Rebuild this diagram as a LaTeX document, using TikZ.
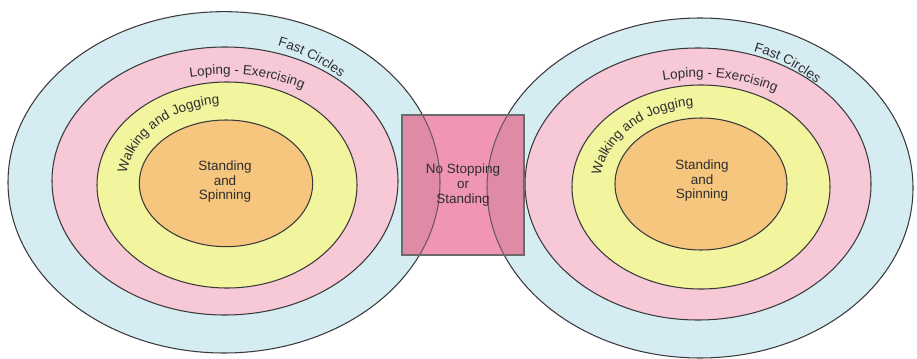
\documentclass[tikz,border=0pt]{standalone}
\usepackage{fontspec}
\setmainfont{Liberation Sans}
\usepackage{tikz}
\usetikzlibrary{
    calc,
    positioning,
    decorations.text
}
\usepackage{xcolor}

\definecolor{ringblue}{HTML}{D6ECF3}
\definecolor{ringpink}{HTML}{F7C8D6}
\definecolor{ringyellow}{HTML}{F2F59E}
\definecolor{ringorange}{HTML}{F6C57E}
\definecolor{ringline}{HTML}{3A3A3A}
\definecolor{boxpink}{HTML}{F096B4}
\definecolor{boxgray}{HTML}{6B6B6B}
\definecolor{labelgray}{HTML}{2E2E2E}

\newcommand{\ringfont}{\fontsize{11.5}{13}\selectfont\color{labelgray}}
\newcommand{\zonefont}{\fontsize{11.5}{12.5}\selectfont}

\begin{document}
\begin{tikzpicture}
                  % Page size
                  \useasboundingbox (0,0) rectangle (27.51,-10.77);

                  % Define styles:
                  \tikzset{
                        ring/.style={draw=ringline, line width=0.9pt},
                        ringlabel/.style={decorate, decoration={text along path, text align=center}},
                        centre/.style={align=center, text=labelgray, font=\zonefont},
                        nostopbox/.style={fill=boxpink, minimum width=3.66cm, minimum height=4.2cm,
                              inner sep=0pt, align=center, text=labelgray, font=\zonefont},
                        boxborder/.style={draw=boxgray, line width=1.8pt}
                  };

                  % Left circles (outer to inner)
                  \draw[ring, fill=ringblue] (6.72,-5.47) ellipse [x radius=6.48, y radius=5.12];
                  \draw[ring, fill=ringpink] (6.75,-5.43) ellipse [x radius=5.19, y radius=4.02];
                  \draw[ring, fill=ringyellow] (6.81,-5.55) ellipse [x radius=3.90, y radius=3.09];
                  \draw[ring, fill=ringorange] (6.78,-5.50) ellipse [x radius=2.60, y radius=1.90];

                  % Right circles (outer to inner)
                  \draw[ring, fill=ringblue] (21.00,-5.64) ellipse [x radius=6.39, y radius=5.10];
                  \draw[ring, fill=ringpink] (20.94,-5.52) ellipse [x radius=5.19, y radius=4.08];
                  \draw[ring, fill=ringyellow] (21.03,-5.61) ellipse [x radius=3.87, y radius=3.06];
                  \draw[ring, fill=ringorange] (21.03,-5.52) ellipse [x radius=2.58, y radius=1.98];

                  % Box between the two circles
                  \node[nostopbox] (nostop) at (13.89,-5.55) {};

                  % Outer circles showing through the box
                  \begin{scope}
                        \clip (nostop.south west) rectangle (nostop.north east);
                        \fill[black, opacity=0.07] (6.72,-5.47) ellipse [x radius=6.48, y radius=5.12];
                        \fill[black, opacity=0.07] (21.00,-5.64) ellipse [x radius=6.39, y radius=5.10];
                        \draw[ring, draw opacity=0.7] (6.72,-5.47) ellipse [x radius=6.48, y radius=5.12];
                        \draw[ring, draw opacity=0.7] (21.00,-5.64) ellipse [x radius=6.39, y radius=5.10];
                  \end{scope}
                  \draw[boxborder] (nostop.south west) rectangle (nostop.north east);
                  \node[centre] (nostop_text) at (nostop) {No Stopping\\or\\Standing};

                  % Ring labels on the left
                  \path[ringlabel, decoration={text={|\ringfont|Fast Circles}}, shift={(6.72,-5.47)}]
                        (97.5:5.07 and 4.32) arc [start angle=97.5, end angle=17.5, x radius=5.07, y radius=4.32];
                  \path[ringlabel, decoration={text={|\ringfont|Loping - Exercising}}, shift={(6.75,-5.43)}]
                        (130:4.6 and 3.2) arc [start angle=130, end angle=30, x radius=4.6, y radius=3.2];
                  \path[ringlabel, decoration={text={|\ringfont|Walking and Jogging}}, shift={(6.81,-5.55)}]
                        (190:3.04 and 2.43) arc [start angle=190, end angle=80, x radius=3.04, y radius=2.43];

                  % Ring labels on the right
                  \path[ringlabel, decoration={text={|\ringfont|Fast Circles}}, shift={(21.00,-5.64)}]
                        (97.5:5.07 and 4.32) arc [start angle=97.5, end angle=17.5, x radius=5.07, y radius=4.32];
                  \path[ringlabel, decoration={text={|\ringfont|Loping - Exercising}}, shift={(20.94,-5.52)}]
                        (130:4.6 and 3.2) arc [start angle=130, end angle=30, x radius=4.6, y radius=3.2];
                  \path[ringlabel, decoration={text={|\ringfont|Walking and Jogging}}, shift={(21.03,-5.61)}]
                        (190:3.04 and 2.43) arc [start angle=190, end angle=80, x radius=3.04, y radius=2.43];

                  % Centre texts
                  \node[centre] (stand_left) at (6.75,-5.45) {Standing\\and\\Spinning};
                  \node[centre] (stand_right) at (21.06,-5.42) {Standing\\and\\Spinning};
\end{tikzpicture}
\end{document}
